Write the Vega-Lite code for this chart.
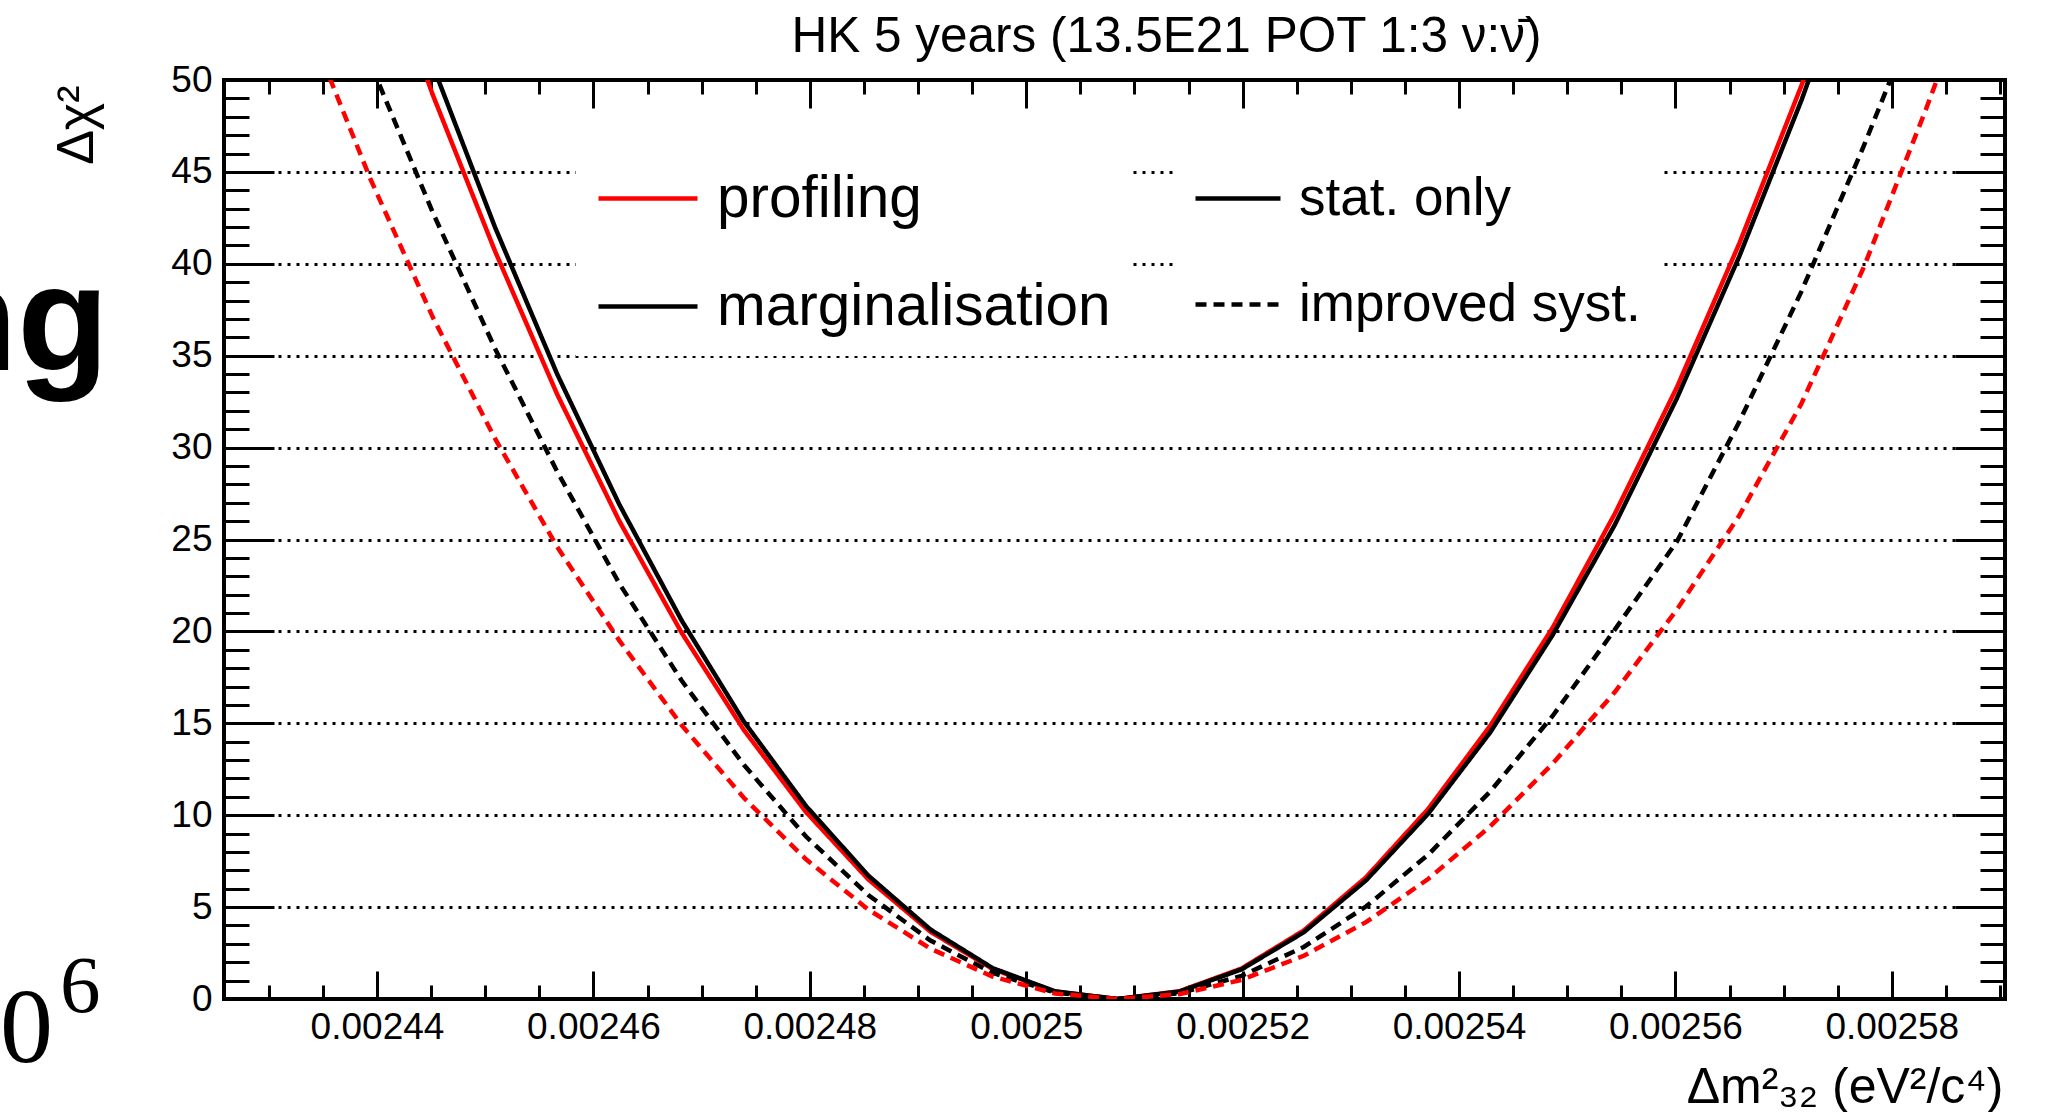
{
  "$schema": "https://vega.github.io/schema/vega-lite/v6.json",
  "width": 1781,
  "height": 919,
  "autosize": {"type": "none"},
  "padding": {"left": 224, "top": 80, "right": 44, "bottom": 113},
  "background": "white",
  "config": {
    "view": {"stroke": "black", "strokeWidth": 4},
    "axis": {"labelFont": "Liberation Sans", "titleFont": "Liberation Sans"}
  },
  "datasets": {
    "curves": [
      {"x": 0.0024394, "y": 58.6, "m": "profiling", "s": "stat. only"},
      {"x": 0.00244515, "y": 49.2, "m": "profiling", "s": "stat. only"},
      {"x": 0.0024509, "y": 40.7, "m": "profiling", "s": "stat. only"},
      {"x": 0.00245665, "y": 32.9, "m": "profiling", "s": "stat. only"},
      {"x": 0.0024624, "y": 26.0, "m": "profiling", "s": "stat. only"},
      {"x": 0.00246815, "y": 19.93, "m": "profiling", "s": "stat. only"},
      {"x": 0.0024739, "y": 14.64, "m": "profiling", "s": "stat. only"},
      {"x": 0.00247965, "y": 10.17, "m": "profiling", "s": "stat. only"},
      {"x": 0.0024854, "y": 6.51, "m": "profiling", "s": "stat. only"},
      {"x": 0.00249115, "y": 3.66, "m": "profiling", "s": "stat. only"},
      {"x": 0.0024969, "y": 1.63, "m": "profiling", "s": "stat. only"},
      {"x": 0.00250265, "y": 0.41, "m": "profiling", "s": "stat. only"},
      {"x": 0.0025084, "y": 0, "m": "profiling", "s": "stat. only"},
      {"x": 0.00251415, "y": 0.42, "m": "profiling", "s": "stat. only"},
      {"x": 0.0025199, "y": 1.66, "m": "profiling", "s": "stat. only"},
      {"x": 0.00252565, "y": 3.73, "m": "profiling", "s": "stat. only"},
      {"x": 0.0025314, "y": 6.62, "m": "profiling", "s": "stat. only"},
      {"x": 0.00253715, "y": 10.34, "m": "profiling", "s": "stat. only"},
      {"x": 0.0025429, "y": 14.88, "m": "profiling", "s": "stat. only"},
      {"x": 0.00254865, "y": 20.2, "m": "profiling", "s": "stat. only"},
      {"x": 0.0025544, "y": 26.4, "m": "profiling", "s": "stat. only"},
      {"x": 0.00256015, "y": 33.3, "m": "profiling", "s": "stat. only"},
      {"x": 0.0025659, "y": 41.1, "m": "profiling", "s": "stat. only"},
      {"x": 0.00257165, "y": 49.7, "m": "profiling", "s": "stat. only"},
      {"x": 0.0025774, "y": 59.2, "m": "profiling", "s": "stat. only"},

      {"x": 0.0024394, "y": 60.5, "m": "marginalisation", "s": "stat. only"},
      {"x": 0.00244515, "y": 50.8, "m": "marginalisation", "s": "stat. only"},
      {"x": 0.0024509, "y": 42.0, "m": "marginalisation", "s": "stat. only"},
      {"x": 0.00245665, "y": 34.0, "m": "marginalisation", "s": "stat. only"},
      {"x": 0.0024624, "y": 26.9, "m": "marginalisation", "s": "stat. only"},
      {"x": 0.00246815, "y": 20.6, "m": "marginalisation", "s": "stat. only"},
      {"x": 0.0024739, "y": 15.1, "m": "marginalisation", "s": "stat. only"},
      {"x": 0.00247965, "y": 10.5, "m": "marginalisation", "s": "stat. only"},
      {"x": 0.0024854, "y": 6.72, "m": "marginalisation", "s": "stat. only"},
      {"x": 0.00249115, "y": 3.78, "m": "marginalisation", "s": "stat. only"},
      {"x": 0.0024969, "y": 1.68, "m": "marginalisation", "s": "stat. only"},
      {"x": 0.00250265, "y": 0.42, "m": "marginalisation", "s": "stat. only"},
      {"x": 0.0025084, "y": 0, "m": "marginalisation", "s": "stat. only"},
      {"x": 0.00251415, "y": 0.4, "m": "marginalisation", "s": "stat. only"},
      {"x": 0.0025199, "y": 1.61, "m": "marginalisation", "s": "stat. only"},
      {"x": 0.00252565, "y": 3.63, "m": "marginalisation", "s": "stat. only"},
      {"x": 0.0025314, "y": 6.45, "m": "marginalisation", "s": "stat. only"},
      {"x": 0.00253715, "y": 10.08, "m": "marginalisation", "s": "stat. only"},
      {"x": 0.0025429, "y": 14.52, "m": "marginalisation", "s": "stat. only"},
      {"x": 0.00254865, "y": 19.8, "m": "marginalisation", "s": "stat. only"},
      {"x": 0.0025544, "y": 25.8, "m": "marginalisation", "s": "stat. only"},
      {"x": 0.00256015, "y": 32.7, "m": "marginalisation", "s": "stat. only"},
      {"x": 0.0025659, "y": 40.4, "m": "marginalisation", "s": "stat. only"},
      {"x": 0.00257165, "y": 48.9, "m": "marginalisation", "s": "stat. only"},
      {"x": 0.0025774, "y": 58.3, "m": "marginalisation", "s": "stat. only"},

      {"x": 0.00243365, "y": 59.8, "m": "marginalisation", "s": "improved syst."},
      {"x": 0.0024394, "y": 50.9, "m": "marginalisation", "s": "improved syst."},
      {"x": 0.00244515, "y": 42.8, "m": "marginalisation", "s": "improved syst."},
      {"x": 0.0024509, "y": 35.4, "m": "marginalisation", "s": "improved syst."},
      {"x": 0.00245665, "y": 28.7, "m": "marginalisation", "s": "improved syst."},
      {"x": 0.0024624, "y": 22.6, "m": "marginalisation", "s": "improved syst."},
      {"x": 0.00246815, "y": 17.33, "m": "marginalisation", "s": "improved syst."},
      {"x": 0.0024739, "y": 12.74, "m": "marginalisation", "s": "improved syst."},
      {"x": 0.00247965, "y": 8.84, "m": "marginalisation", "s": "improved syst."},
      {"x": 0.0024854, "y": 5.66, "m": "marginalisation", "s": "improved syst."},
      {"x": 0.00249115, "y": 3.18, "m": "marginalisation", "s": "improved syst."},
      {"x": 0.0024969, "y": 1.42, "m": "marginalisation", "s": "improved syst."},
      {"x": 0.00250265, "y": 0.35, "m": "marginalisation", "s": "improved syst."},
      {"x": 0.0025084, "y": 0, "m": "marginalisation", "s": "improved syst."},
      {"x": 0.00251415, "y": 0.31, "m": "marginalisation", "s": "improved syst."},
      {"x": 0.0025199, "y": 1.26, "m": "marginalisation", "s": "improved syst."},
      {"x": 0.00252565, "y": 2.83, "m": "marginalisation", "s": "improved syst."},
      {"x": 0.0025314, "y": 5.03, "m": "marginalisation", "s": "improved syst."},
      {"x": 0.00253715, "y": 7.85, "m": "marginalisation", "s": "improved syst."},
      {"x": 0.0025429, "y": 11.3, "m": "marginalisation", "s": "improved syst."},
      {"x": 0.00254865, "y": 15.4, "m": "marginalisation", "s": "improved syst."},
      {"x": 0.0025544, "y": 20.1, "m": "marginalisation", "s": "improved syst."},
      {"x": 0.00256015, "y": 24.9, "m": "marginalisation", "s": "improved syst."},
      {"x": 0.0025659, "y": 31.4, "m": "marginalisation", "s": "improved syst."},
      {"x": 0.00257165, "y": 38.5, "m": "marginalisation", "s": "improved syst."},
      {"x": 0.0025774, "y": 46.4, "m": "marginalisation", "s": "improved syst."},
      {"x": 0.00258315, "y": 54.8, "m": "marginalisation", "s": "improved syst."},

      {"x": 0.0024279, "y": 62.0, "m": "profiling", "s": "improved syst."},
      {"x": 0.00243365, "y": 53.0, "m": "profiling", "s": "improved syst."},
      {"x": 0.0024394, "y": 44.6, "m": "profiling", "s": "improved syst."},
      {"x": 0.00244515, "y": 37.1, "m": "profiling", "s": "improved syst."},
      {"x": 0.0024509, "y": 30.5, "m": "profiling", "s": "improved syst."},
      {"x": 0.00245665, "y": 24.6, "m": "profiling", "s": "improved syst."},
      {"x": 0.0024624, "y": 19.5, "m": "profiling", "s": "improved syst."},
      {"x": 0.00246815, "y": 14.9, "m": "profiling", "s": "improved syst."},
      {"x": 0.0024739, "y": 10.95, "m": "profiling", "s": "improved syst."},
      {"x": 0.00247965, "y": 7.6, "m": "profiling", "s": "improved syst."},
      {"x": 0.0024854, "y": 4.87, "m": "profiling", "s": "improved syst."},
      {"x": 0.00249115, "y": 2.74, "m": "profiling", "s": "improved syst."},
      {"x": 0.0024969, "y": 1.22, "m": "profiling", "s": "improved syst."},
      {"x": 0.00250265, "y": 0.30, "m": "profiling", "s": "improved syst."},
      {"x": 0.0025084, "y": 0, "m": "profiling", "s": "improved syst."},
      {"x": 0.00251415, "y": 0.26, "m": "profiling", "s": "improved syst."},
      {"x": 0.0025199, "y": 1.04, "m": "profiling", "s": "improved syst."},
      {"x": 0.00252565, "y": 2.35, "m": "profiling", "s": "improved syst."},
      {"x": 0.0025314, "y": 4.18, "m": "profiling", "s": "improved syst."},
      {"x": 0.00253715, "y": 6.53, "m": "profiling", "s": "improved syst."},
      {"x": 0.0025429, "y": 9.4, "m": "profiling", "s": "improved syst."},
      {"x": 0.00254865, "y": 12.8, "m": "profiling", "s": "improved syst."},
      {"x": 0.0025544, "y": 16.7, "m": "profiling", "s": "improved syst."},
      {"x": 0.00256015, "y": 21.2, "m": "profiling", "s": "improved syst."},
      {"x": 0.0025659, "y": 26.3, "m": "profiling", "s": "improved syst."},
      {"x": 0.00257165, "y": 32.4, "m": "profiling", "s": "improved syst."},
      {"x": 0.0025774, "y": 39.8, "m": "profiling", "s": "improved syst."},
      {"x": 0.00258315, "y": 48.4, "m": "profiling", "s": "improved syst."},
      {"x": 0.0025889, "y": 57.5, "m": "profiling", "s": "improved syst."}
    ],
    "ttl": [{"x": 0.0024783, "y": 51.52}],
    "ng": [{"x": 0.00241523, "y": 34.22}],
    "zero": [{"x": 0.00240516, "y": -3.43}],
    "six": [{"x": 0.0024107, "y": -0.71}]
  },
  "layer": [
    {
      "data": {"name": "curves"},
      "mark": {"type": "line", "clip": true, "strokeWidth": 4.5},
      "encoding": {
        "x": {
          "field": "x", "type": "quantitative",
          "scale": {"domain": [0.00242586, 0.00259046], "nice": false, "zero": false},
          "axis": {
            "orient": "bottom",
            "values": [0.00243, 0.002435, 0.00244, 0.002445, 0.00245, 0.002455, 0.00246, 0.002465, 0.00247, 0.002475, 0.00248, 0.002485, 0.00249, 0.002495, 0.0025, 0.002505, 0.00251, 0.002515, 0.00252, 0.002525, 0.00253, 0.002535, 0.00254, 0.002545, 0.00255, 0.002555, 0.00256, 0.002565, 0.00257, 0.002575, 0.00258, 0.002585, 0.00259],
            "labelExpr": "round(datum.value*1e6)%20===0 ? format(datum.value,'~g') : ''",
            "tickSize": {"condition": {"test": "round(datum.value*1e6)%20===0", "value": -28}, "value": -14},
            "tickWidth": 3, "tickColor": "black",
            "labelPadding": 38, "labelFontSize": 37, "labelColor": "black",
            "labelFlush": false, "labelOverlap": false,
            "domain": false, "grid": false,
            "title": "Δm²₃₂ (eV²/c⁴)",
            "titleX": 1779, "titleY": 103, "titleAlign": "right", "titleBaseline": "alphabetic",
            "titleFontSize": 50, "titleFontWeight": "normal", "titleColor": "black"
          }
        },
        "y": {
          "field": "y", "type": "quantitative",
          "scale": {"domain": [0, 50], "nice": false, "zero": false},
          "axis": {
            "orient": "left",
            "values": [0,1,2,3,4,5,6,7,8,9,10,11,12,13,14,15,16,17,18,19,20,21,22,23,24,25,26,27,28,29,30,31,32,33,34,35,36,37,38,39,40,41,42,43,44,45,46,47,48,49,50],
            "labelExpr": "datum.value%5===0 ? datum.label : ''",
            "tickSize": {"condition": {"test": "datum.value%5===0", "value": -50}, "value": -25},
            "tickWidth": 3, "tickColor": "black",
            "labelPadding": 62, "labelFontSize": 37, "labelColor": "black",
            "labelFlush": false, "labelOverlap": false,
            "domain": false,
            "grid": true, "gridColor": "black", "gridWidth": 3, "gridDash": [3, 6],
            "gridOpacity": {"condition": {"test": "datum.value%5===0 && datum.value>0 && datum.value<50", "value": 1}, "value": 0},
            "title": "Δχ²",
            "titleAngle": 270, "titleX": -132, "titleY": 5, "titleAlign": "right", "titleBaseline": "alphabetic",
            "titleFontSize": 52, "titleFontWeight": "normal", "titleColor": "black"
          }
        },
        "color": {
          "field": "m", "type": "nominal",
          "scale": {"domain": ["profiling", "marginalisation"], "range": ["#ff0000", "#000000"]},
          "legend": {
            "orient": "none", "legendX": 352, "legendY": 70, "title": null, "direction": "vertical",
            "symbolType": "stroke", "symbolSize": 9801, "symbolStrokeWidth": 4.5,
            "labelFontSize": 58.5, "labelFont": "Liberation Sans", "labelColor": "black", "labelLimit": 1000,
            "labelOffset": 17, "rowPadding": 49, "clipHeight": 57, "padding": 20, "fillColor": "white"
          }
        },
        "strokeDash": {
          "field": "s", "type": "nominal",
          "scale": {"domain": ["stat. only", "improved syst."], "range": [[1, 0], [11, 7]]},
          "legend": {
            "orient": "none", "legendX": 949, "legendY": 70, "title": null, "direction": "vertical",
            "symbolType": "stroke", "symbolSize": 7225, "symbolStrokeWidth": 4.5, "symbolStrokeColor": "black",
            "labelFontSize": 53, "labelFont": "Liberation Sans", "labelColor": "black", "labelLimit": 1000,
            "labelOffset": 16, "rowPadding": 49, "clipHeight": 57, "padding": 20, "fillColor": "white"
          }
        }
      }
    },
    {
      "data": {"name": "curves"},
      "mark": {"type": "line", "opacity": 0, "clip": true},
      "encoding": {
        "x": {
          "field": "x", "type": "quantitative",
          "scale": {"domain": [0.00242586, 0.00259046], "nice": false, "zero": false},
          "axis": {
            "orient": "top",
            "values": [0.00243, 0.002435, 0.00244, 0.002445, 0.00245, 0.002455, 0.00246, 0.002465, 0.00247, 0.002475, 0.00248, 0.002485, 0.00249, 0.002495, 0.0025, 0.002505, 0.00251, 0.002515, 0.00252, 0.002525, 0.00253, 0.002535, 0.00254, 0.002545, 0.00255, 0.002555, 0.00256, 0.002565, 0.00257, 0.002575, 0.00258, 0.002585, 0.00259],
            "labels": false,
            "tickSize": {"condition": {"test": "round(datum.value*1e6)%20===0", "value": -28}, "value": -14},
            "tickWidth": 3, "tickColor": "black",
            "domain": false, "grid": false, "title": null
          }
        },
        "y": {
          "field": "y", "type": "quantitative",
          "scale": {"domain": [0, 50], "nice": false, "zero": false},
          "axis": {
            "orient": "right",
            "values": [0,1,2,3,4,5,6,7,8,9,10,11,12,13,14,15,16,17,18,19,20,21,22,23,24,25,26,27,28,29,30,31,32,33,34,35,36,37,38,39,40,41,42,43,44,45,46,47,48,49,50],
            "labels": false,
            "tickSize": {"condition": {"test": "datum.value%5===0", "value": -50}, "value": -25},
            "tickWidth": 3, "tickColor": "black",
            "domain": false, "grid": false, "title": null
          }
        }
      }
    },
    {
      "data": {"name": "ttl"},
      "mark": {"type": "text", "text": "HK 5 years (13.5E21 POT 1:3 ν:ν\u0304)", "font": "Liberation Sans", "fontSize": 49.5, "align": "left", "baseline": "alphabetic", "color": "black"},
      "encoding": {
        "x": {"field": "x", "type": "quantitative", "scale": {"domain": [0.00242586, 0.00259046], "nice": false, "zero": false}, "axis": null},
        "y": {"field": "y", "type": "quantitative", "scale": {"domain": [0, 50], "nice": false, "zero": false}, "axis": null}
      }
    },
    {
      "data": {"name": "ng"},
      "mark": {"type": "text", "text": "ng", "font": "Liberation Sans", "fontWeight": "bold", "fontSize": 150, "align": "right", "baseline": "alphabetic", "color": "black"},
      "encoding": {
        "x": {"field": "x", "type": "quantitative", "scale": {"domain": [0.00242586, 0.00259046], "nice": false, "zero": false}, "axis": null},
        "y": {"field": "y", "type": "quantitative", "scale": {"domain": [0, 50], "nice": false, "zero": false}, "axis": null}
      }
    },
    {
      "data": {"name": "zero"},
      "mark": {"type": "text", "text": "0", "font": "Liberation Serif", "fontSize": 106, "align": "left", "baseline": "alphabetic", "color": "black"},
      "encoding": {
        "x": {"field": "x", "type": "quantitative", "scale": {"domain": [0.00242586, 0.00259046], "nice": false, "zero": false}, "axis": null},
        "y": {"field": "y", "type": "quantitative", "scale": {"domain": [0, 50], "nice": false, "zero": false}, "axis": null}
      }
    },
    {
      "data": {"name": "six"},
      "mark": {"type": "text", "text": "6", "font": "Liberation Serif", "fontSize": 81, "align": "left", "baseline": "alphabetic", "color": "black"},
      "encoding": {
        "x": {"field": "x", "type": "quantitative", "scale": {"domain": [0.00242586, 0.00259046], "nice": false, "zero": false}, "axis": null},
        "y": {"field": "y", "type": "quantitative", "scale": {"domain": [0, 50], "nice": false, "zero": false}, "axis": null}
      }
    }
  ],
  "resolve": {"axis": {"x": "independent", "y": "independent"}}
}
